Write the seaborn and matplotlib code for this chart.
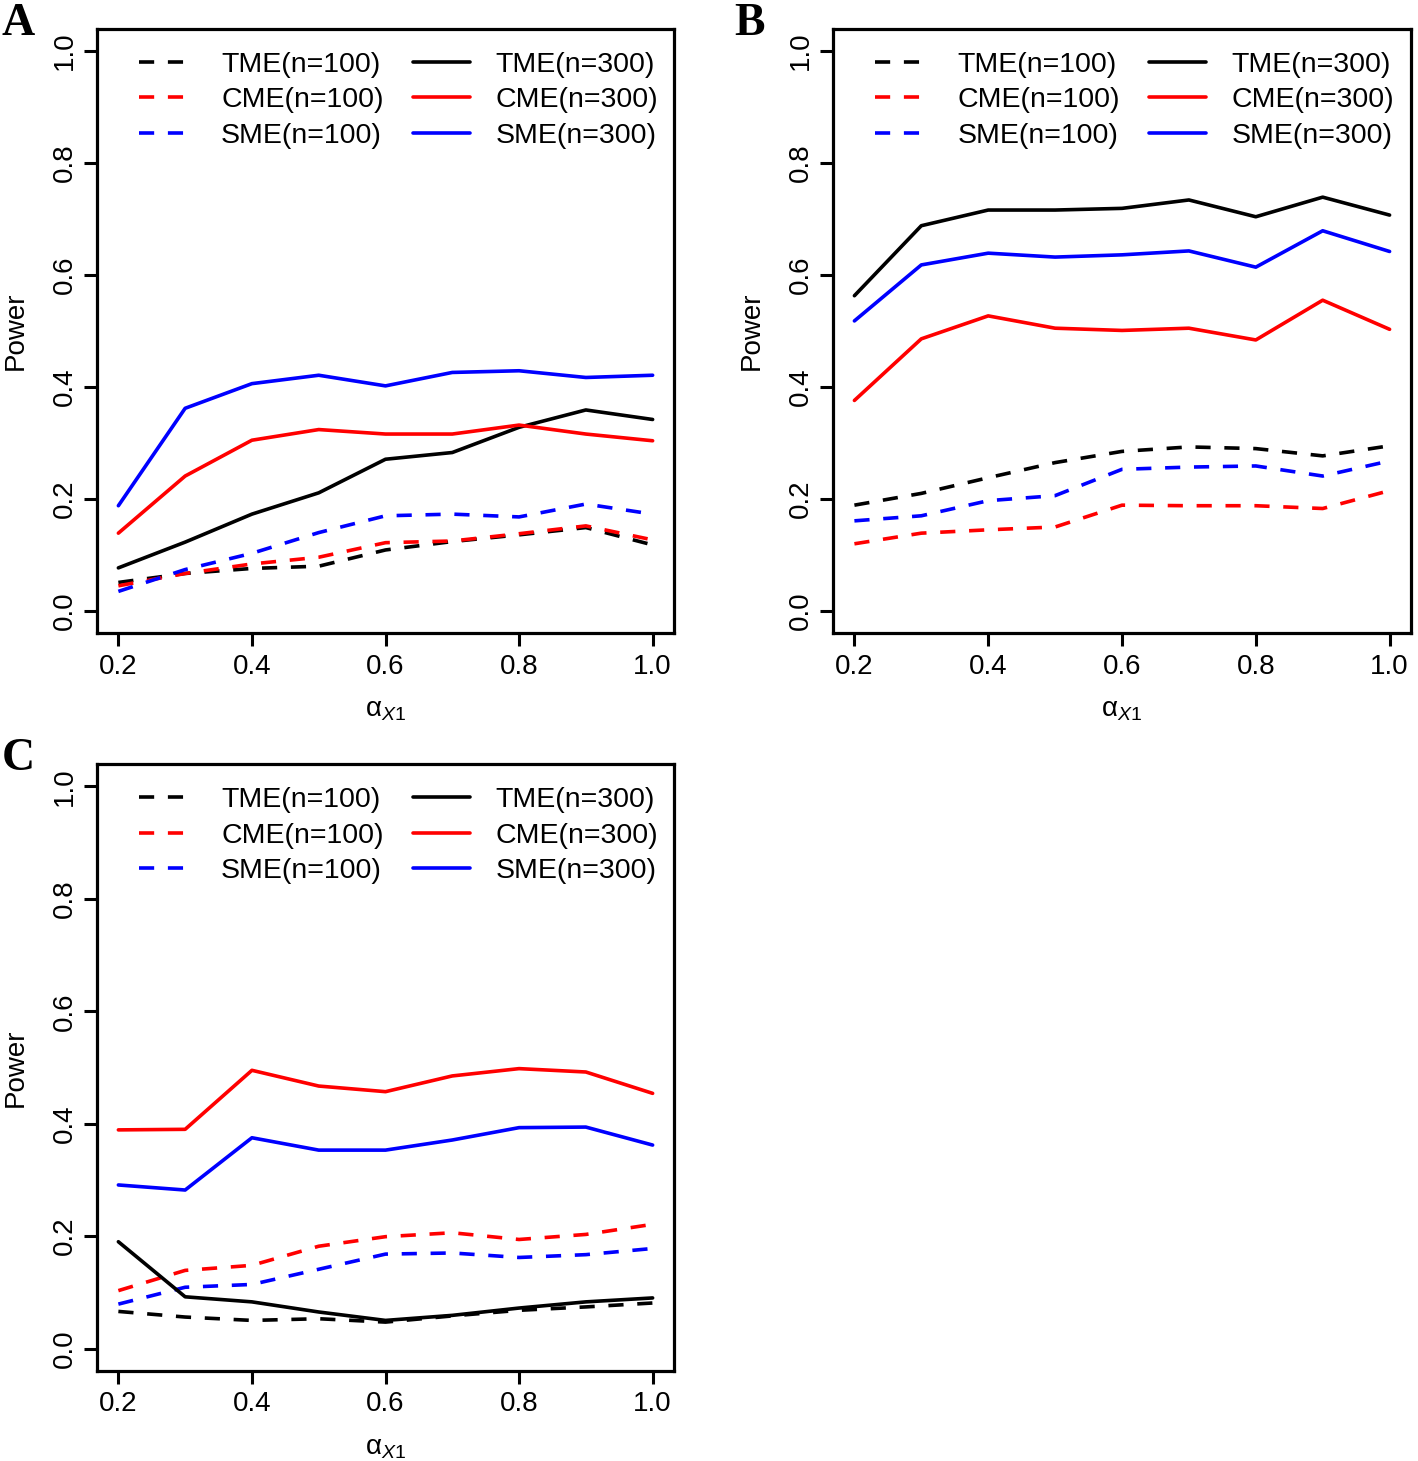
import matplotlib
matplotlib.use('Agg')
import matplotlib.pyplot as plt
import seaborn as sns

# --- datos ---
alpha_x1 = [0.2, 0.3, 0.4, 0.5, 0.6, 0.7, 0.8, 0.9, 1.0]

# panel A
a_tme_100 = [0.051, 0.067, 0.076, 0.080, 0.109, 0.124, 0.136, 0.149, 0.118]
a_cme_100 = [0.045, 0.067, 0.084, 0.096, 0.122, 0.125, 0.138, 0.152, 0.127]
a_sme_100 = [0.035, 0.074, 0.103, 0.140, 0.170, 0.173, 0.168, 0.191, 0.173]
a_tme_300 = [0.077, 0.123, 0.173, 0.211, 0.271, 0.283, 0.328, 0.359, 0.342]
a_cme_300 = [0.139, 0.241, 0.305, 0.324, 0.316, 0.316, 0.332, 0.316, 0.304]
a_sme_300 = [0.188, 0.362, 0.406, 0.421, 0.402, 0.426, 0.429, 0.417, 0.421]

# panel B
b_tme_100 = [0.189, 0.210, 0.238, 0.265, 0.285, 0.293, 0.290, 0.277, 0.295]
b_cme_100 = [0.120, 0.139, 0.145, 0.150, 0.189, 0.188, 0.188, 0.183, 0.215]
b_sme_100 = [0.161, 0.170, 0.197, 0.206, 0.253, 0.257, 0.259, 0.241, 0.268]
b_tme_300 = [0.563, 0.688, 0.716, 0.716, 0.719, 0.734, 0.704, 0.739, 0.707]
b_cme_300 = [0.376, 0.486, 0.527, 0.505, 0.501, 0.505, 0.484, 0.555, 0.503]
b_sme_300 = [0.518, 0.618, 0.639, 0.632, 0.636, 0.643, 0.614, 0.679, 0.642]

# panel C
c_tme_100 = [0.066, 0.056, 0.050, 0.053, 0.047, 0.058, 0.068, 0.074, 0.081]
c_cme_100 = [0.103, 0.139, 0.148, 0.182, 0.199, 0.206, 0.194, 0.203, 0.221]
c_sme_100 = [0.079, 0.109, 0.114, 0.141, 0.168, 0.170, 0.162, 0.167, 0.178]
c_tme_300 = [0.190, 0.092, 0.083, 0.065, 0.050, 0.059, 0.072, 0.083, 0.090]
c_cme_300 = [0.389, 0.390, 0.495, 0.467, 0.457, 0.485, 0.498, 0.492, 0.454]
c_sme_300 = [0.291, 0.282, 0.375, 0.353, 0.353, 0.371, 0.393, 0.394, 0.362]

series_labels = ['TME(n=100)', 'CME(n=100)', 'SME(n=100)',
                 'TME(n=300)', 'CME(n=300)', 'SME(n=300)']
series_colors = ['black', 'red', 'blue', 'black', 'red', 'blue']
series_dashed = [True, True, True, False, False, False]

panels = {
    'A': [a_tme_100, a_cme_100, a_sme_100, a_tme_300, a_cme_300, a_sme_300],
    'B': [b_tme_100, b_cme_100, b_sme_100, b_tme_300, b_cme_300, b_sme_300],
    'C': [c_tme_100, c_cme_100, c_sme_100, c_tme_300, c_cme_300, c_sme_300],
}

# --- estilo ---
sns.set_style('ticks')
plt.rcParams['font.family'] = ['Liberation Sans', 'DejaVu Sans']
plt.rcParams['text.color'] = 'black'
plt.rcParams['axes.labelcolor'] = 'black'
plt.rcParams['xtick.color'] = 'black'
plt.rcParams['ytick.color'] = 'black'
plt.rcParams['mathtext.fontset'] = 'custom'
plt.rcParams['mathtext.rm'] = 'Liberation Sans'
plt.rcParams['mathtext.it'] = 'Liberation Sans:italic'

W, H = 1418, 1461
fig = plt.figure(figsize=(W / 100, H / 100), dpi=100)

# posiciones en pixeles (izq, arriba, der, abajo)
boxes = {
    'A': (97, 28.6, 674, 633.4),
    'B': (833, 28.6, 1411, 633.4),
    'C': (97, 764, 674, 1371),
}
letter_pos = {'A': (1, 35), 'B': (734, 35), 'C': (2, 770)}

FS = 20
for key, series in panels.items():
    l, t, r, b = boxes[key]
    ax = fig.add_axes([l / W, 1 - b / H, (r - l) / W, (b - t) / H])
    for vals, lab, col, dashed in zip(series, series_labels, series_colors, series_dashed):
        ls = (0, (4.2, 3.8)) if dashed else '-'
        sns.lineplot(x=alpha_x1, y=vals, color=col, linestyle=ls, linewidth=2.6,
                     label=lab, ax=ax)
    ax.set_xlim(0.168, 1.032)
    ax.set_ylim(-0.04, 1.04)
    ax.set_xticks([0.2, 0.4, 0.6, 0.8, 1.0])
    ax.set_yticks([0.0, 0.2, 0.4, 0.6, 0.8, 1.0])
    ax.set_xticklabels(['0.2', '0.4', '0.6', '0.8', '1.0'])
    ax.set_yticklabels(['0.0', '0.2', '0.4', '0.6', '0.8', '1.0'], rotation=90, va='center')
    ax.tick_params(axis='both', direction='out', length=9.5, width=2.2, labelsize=FS,
                   color='black', labelcolor='black')
    ax.tick_params(axis='x', pad=5)
    ax.tick_params(axis='y', pad=4)
    for sp in ax.spines.values():
        sp.set_visible(True)
        sp.set_linewidth(2.3)
        sp.set_color('black')
    ax.set_xlabel(r'$\mathrm{\alpha}_{X\mathrm{1}}$', fontsize=FS, color='black')
    ax.set_ylabel('Power', fontsize=FS, color='black')
    ax.xaxis.set_label_coords(0.5, -0.105)
    ax.yaxis.set_label_coords(-0.118, 0.5)
    leg = ax.legend(loc='upper left', bbox_to_anchor=(0.072, 0.962), ncol=2, frameon=False,
                    fontsize=20.5, handlelength=2.0, handletextpad=0.9, columnspacing=1.02,
                    labelspacing=0.34, borderpad=0, borderaxespad=0)
    for txt in leg.get_texts():
        txt.set_color('black')
    lx, ly = letter_pos[key]
    fig.text(lx / W, 1 - ly / H, key, fontsize=33, fontweight='bold', color='black',
             family=['Liberation Serif', 'DejaVu Serif'], ha='left', va='baseline')

fig.savefig('out.png', dpi=100)
